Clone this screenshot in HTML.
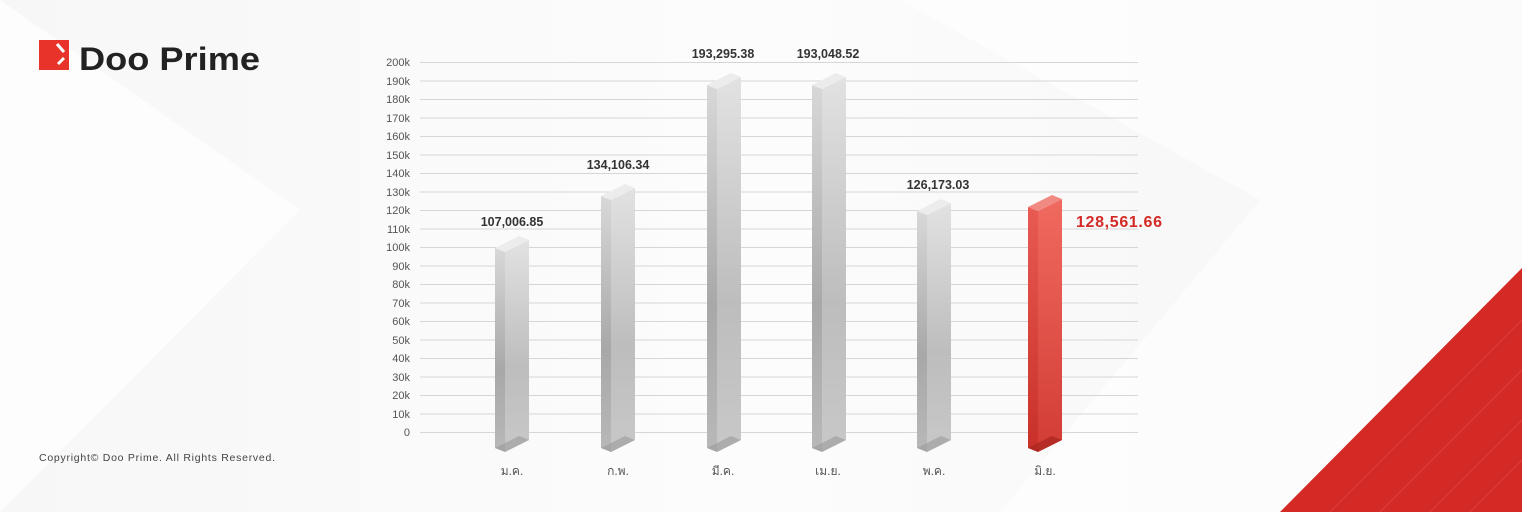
<!DOCTYPE html>
<html><head><meta charset="utf-8"><style>
body{margin:0;width:1522px;height:512px;overflow:hidden;background:#fff;font-family:"Liberation Sans","Noto Sans CJK SC",sans-serif}
</style></head><body>
<svg width="1522" height="512" viewBox="0 0 1522 512" xmlns="http://www.w3.org/2000/svg" font-family="Liberation Sans, sans-serif">
<defs>
<linearGradient id="bg" x1="0" y1="0" x2="1" y2="0"><stop offset="0" stop-color="#f7f7f7"/><stop offset="0.5" stop-color="#fcfcfc"/><stop offset="1" stop-color="#f5f5f5"/></linearGradient>
<linearGradient id="gs" x1="0" y1="0" x2="0" y2="1"><stop offset="0" stop-color="#d8d8d8"/><stop offset="0.6" stop-color="#a8a8a8"/><stop offset="1" stop-color="#b8b8b8"/></linearGradient>
<linearGradient id="gf" x1="0" y1="0" x2="0" y2="1"><stop offset="0" stop-color="#e2e2e2"/><stop offset="0.6" stop-color="#bdbdbd"/><stop offset="1" stop-color="#c8c8c8"/></linearGradient>
<linearGradient id="rs" x1="0" y1="0" x2="0" y2="1"><stop offset="0" stop-color="#e85a52"/><stop offset="1" stop-color="#c83028"/></linearGradient>
<linearGradient id="rf" x1="0" y1="0" x2="0" y2="1"><stop offset="0" stop-color="#f06a60"/><stop offset="1" stop-color="#d23c34"/></linearGradient>
</defs>
<rect width="1522" height="512" fill="url(#bg)"/>
<polygon points="0,0 300,210 0,512" fill="#ffffff" opacity="0.7"/>
<polygon points="900,0 1260,200 1000,512 1522,512 1522,0" fill="#ffffff" opacity="0.6"/>
<polygon points="1280,512 1522,268 1522,512" fill="#d42a26"/>
<g stroke="#e65450" stroke-width="0.7" opacity="0.7">
<line x1="1330" y1="512" x2="1522" y2="320"/><line x1="1380" y1="512" x2="1522" y2="370"/><line x1="1430" y1="512" x2="1522" y2="420"/><line x1="1470" y1="512" x2="1522" y2="460"/>
</g>
<rect x="39" y="40" width="30" height="30" fill="#e8332a"/>
<path d="M57 44 L64 52 M58 64 L64 58" stroke="#fff" stroke-width="3"/>
<text x="79" y="70" font-size="32" font-weight="bold" fill="#222" textLength="181" lengthAdjust="spacingAndGlyphs">Doo Prime</text>
<text x="39" y="461" font-size="10.5" fill="#444" textLength="236">Copyright© Doo Prime. All Rights Reserved.</text>
<g stroke="#d6d6d6" stroke-width="1">
<line x1="420" y1="62.5" x2="1138" y2="62.5"/><line x1="420" y1="81" x2="1138" y2="81"/><line x1="420" y1="99.5" x2="1138" y2="99.5"/><line x1="420" y1="118" x2="1138" y2="118"/><line x1="420" y1="136.5" x2="1138" y2="136.5"/><line x1="420" y1="155" x2="1138" y2="155"/><line x1="420" y1="173.5" x2="1138" y2="173.5"/><line x1="420" y1="192" x2="1138" y2="192"/><line x1="420" y1="210.5" x2="1138" y2="210.5"/><line x1="420" y1="229" x2="1138" y2="229"/><line x1="420" y1="247.5" x2="1138" y2="247.5"/><line x1="420" y1="266" x2="1138" y2="266"/><line x1="420" y1="284.5" x2="1138" y2="284.5"/><line x1="420" y1="303" x2="1138" y2="303"/><line x1="420" y1="321.5" x2="1138" y2="321.5"/><line x1="420" y1="340" x2="1138" y2="340"/><line x1="420" y1="358.5" x2="1138" y2="358.5"/><line x1="420" y1="377" x2="1138" y2="377"/><line x1="420" y1="395.5" x2="1138" y2="395.5"/><line x1="420" y1="414" x2="1138" y2="414"/><line x1="420" y1="432.5" x2="1138" y2="432.5"/>
</g>
<g font-size="11" fill="#555" text-anchor="end">
<text x="410" y="66">200k</text><text x="410" y="85">190k</text><text x="410" y="103">180k</text><text x="410" y="122">170k</text><text x="410" y="140">160k</text><text x="410" y="159">150k</text><text x="410" y="177">140k</text><text x="410" y="196">130k</text><text x="410" y="214">120k</text><text x="410" y="233">110k</text><text x="410" y="251">100k</text><text x="410" y="270">90k</text><text x="410" y="288">80k</text><text x="410" y="307">70k</text><text x="410" y="325">60k</text><text x="410" y="344">50k</text><text x="410" y="362">40k</text><text x="410" y="381">30k</text><text x="410" y="399">20k</text><text x="410" y="418">10k</text><text x="410" y="436">0</text>
</g>
<g>
<g><polygon points="495,248 505,252 505,452 495,448" fill="url(#gs)"/><polygon points="505,252 529,240 529,440 505,452" fill="url(#gf)"/><polygon points="495,248 519,236 529,240 505,252" fill="#ececec"/><polygon points="505,452 529,440 519,436 495,448" fill="#9a9a9a" opacity="0.6"/></g>
<g><polygon points="601,196 611,200 611,452 601,448" fill="url(#gs)"/><polygon points="611,200 635,188 635,440 611,452" fill="url(#gf)"/><polygon points="601,196 625,184 635,188 611,200" fill="#ececec"/><polygon points="611,452 635,440 625,436 601,448" fill="#9a9a9a" opacity="0.6"/></g>
<g><polygon points="707,85 717,89 717,452 707,448" fill="url(#gs)"/><polygon points="717,89 741,77 741,440 717,452" fill="url(#gf)"/><polygon points="707,85 731,73 741,77 717,89" fill="#ececec"/><polygon points="717,452 741,440 731,436 707,448" fill="#9a9a9a" opacity="0.6"/></g>
<g><polygon points="812,85 822,89 822,452 812,448" fill="url(#gs)"/><polygon points="822,89 846,77 846,440 822,452" fill="url(#gf)"/><polygon points="812,85 836,73 846,77 822,89" fill="#ececec"/><polygon points="822,452 846,440 836,436 812,448" fill="#9a9a9a" opacity="0.6"/></g>
<g><polygon points="917,211 927,215 927,452 917,448" fill="url(#gs)"/><polygon points="927,215 951,203 951,440 927,452" fill="url(#gf)"/><polygon points="917,211 941,199 951,203 927,215" fill="#ececec"/><polygon points="927,452 951,440 941,436 917,448" fill="#9a9a9a" opacity="0.6"/></g>
<g><polygon points="1028,207 1038,211 1038,452 1028,448" fill="url(#rs)"/><polygon points="1038,211 1062,199 1062,440 1038,452" fill="url(#rf)"/><polygon points="1028,207 1052,195 1062,199 1038,211" fill="#f08a82"/><polygon points="1038,452 1062,440 1052,436 1028,448" fill="#a82520" opacity="0.7"/></g>
</g>
<g font-size="12.5" font-weight="bold" fill="#333" text-anchor="middle">
<text x="512" y="226">107,006.85</text><text x="618" y="169">134,106.34</text><text x="723" y="58">193,295.38</text><text x="828" y="58">193,048.52</text><text x="938" y="189">126,173.03</text>
</g>
<text x="1076" y="227" font-size="16" font-weight="bold" fill="#d42a26" textLength="86">128,561.66</text>
<g font-size="12" fill="#555" text-anchor="middle" font-family="Liberation Sans, Noto Sans CJK SC, sans-serif">
<text x="512" y="475">ม.ค.</text><text x="618" y="475">ก.พ.</text><text x="723" y="475">มี.ค.</text><text x="828" y="475">เม.ย.</text><text x="934" y="475">พ.ค.</text><text x="1045" y="475">มิ.ย.</text>
</g>
</svg>
</body></html>
